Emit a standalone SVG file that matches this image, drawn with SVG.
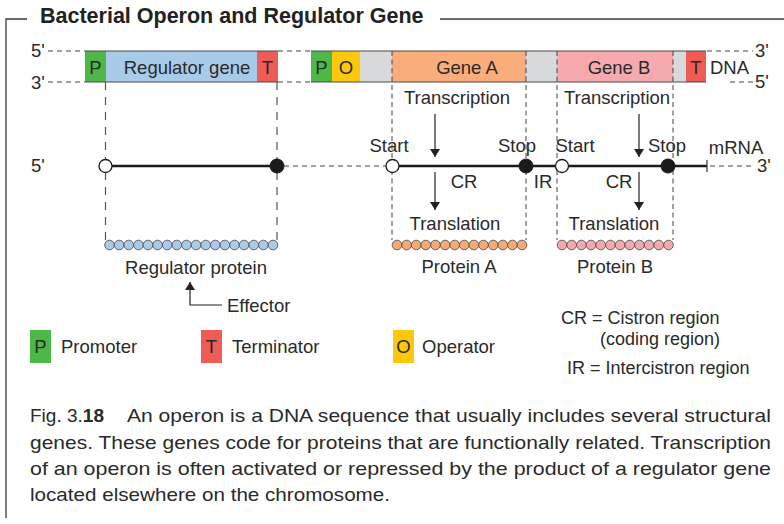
<svg xmlns="http://www.w3.org/2000/svg" width="784" height="524" viewBox="0 0 784 524">
<style>
text{font-family:"Liberation Sans",Arial,sans-serif;fill:#2a2a2a}
.lb{font-size:18.5px}
.sm{font-size:18px}
.cap{font-size:19px}
.m{text-anchor:middle}
.frame{stroke:#3a3a3a;stroke-width:1.3;fill:none}
.edge{stroke:#4a4a4a;stroke-width:1.2;fill:none}
.dh{stroke:#444;stroke-width:1.1;stroke-dasharray:5 4;fill:none}
.dvr{stroke:#555;stroke-width:1.2;stroke-dasharray:8 7;fill:none}
.dvo{stroke:#444;stroke-width:1;stroke-dasharray:5 3.5;fill:none}
.thick{stroke:#1a1a1a;stroke-width:2.6;fill:none}
.thin{stroke:#333;stroke-width:1.2;fill:none}
.open{fill:#fff;stroke:#1a1a1a;stroke-width:1.3}
.full{fill:#1a1a1a;stroke:#1a1a1a;stroke-width:1}
.arr{stroke:#222;stroke-width:1.2;fill:none}
.bead{stroke:#555;stroke-width:0.9}
.bb{fill:#a9cbea}.bo{fill:#f9aa74}.bp{fill:#f6a9ad}
.cg{fill:#4db848}.cb{fill:#a9cbea}.cr{fill:#ef5b55}.cy{fill:#fdc80c}.cx{fill:#d9dadc}.ca{fill:#f9ad7a}.cp{fill:#f7aaae}
</style>
<defs>
<marker id="ah" viewBox="0 0 8 10" refX="8" refY="5" markerWidth="8" markerHeight="10" markerUnits="userSpaceOnUse" orient="auto">
<path d="M0,0 L8,5 L0,10 Z" fill="#222"/>
</marker>
</defs>

<g id="frame">
<path class="frame" d="M27,19 H6 V518"/>
<path class="frame" d="M440,19 H784"/>
<text x="40" y="23" style="font-size:21.5px;font-weight:bold;fill:#222">Bacterial Operon and Regulator Gene</text>
</g>

<g id="connectors">
<!-- DNA dashed strand lines -->
<path class="dh" d="M48,51 H85 M48,82 H85"/>
<path class="dh" d="M278,51 H311 M278,82 H311"/>
<path class="dh" d="M707,51 H753 M730,82 H753"/>
<!-- vertical dashed guides -->
<path class="dvr" d="M105.5,82 V240 M277,82 V240"/>
<path class="dvo" d="M392,51 V240 M526,51 V240 M557,51 V240 M673,51 V240"/>
<!-- mRNA -->
<path class="thick" d="M105.5,166 H277"/>
<path class="dh" d="M284,166 H386"/>
<path class="thick" d="M392,166 H707"/>
<path class="thin" d="M707,160 V172"/>
<path class="dh" d="M710,166 H753"/>
<!-- arrows -->
<path class="arr" d="M435,114 V157" marker-end="url(#ah)"/>
<path class="arr" d="M435,172 V210" marker-end="url(#ah)"/>
<path class="arr" d="M639,114 V157" marker-end="url(#ah)"/>
<path class="arr" d="M639,172 V210" marker-end="url(#ah)"/>
<path class="arr" d="M222,305 H190 V282" marker-end="url(#ah)"/>
</g>

<g id="dna-regulator">
<rect class="cg" x="85" y="51" width="21" height="31"/>
<rect class="cb" x="106" y="51" width="151" height="31"/>
<rect class="cr" x="257" y="51" width="21" height="31"/>
<path class="edge" d="M85,51 H278 M85,82 H278"/>
<text class="lb m" x="95.5" y="74">P</text>
<text class="lb m" x="187" y="74">Regulator gene</text>
<text class="lb m" x="267.5" y="74">T</text>
</g>

<g id="dna-operon">
<rect class="cg" x="311" y="51" width="21" height="31"/>
<rect class="cy" x="332" y="51" width="28" height="31"/>
<rect class="cx" x="360" y="51" width="32" height="31"/>
<rect class="ca" x="392" y="51" width="134" height="31"/>
<rect class="cx" x="526" y="51" width="31" height="31"/>
<rect class="cp" x="557" y="51" width="116" height="31"/>
<rect class="cx" x="673" y="51" width="13" height="31"/>
<rect class="cr" x="686" y="51" width="20" height="31"/>
<path class="edge" d="M311,51 H706 M311,82 H706"/>
<path class="dvo" d="M392,51 V82 M526,51 V82 M557,51 V82 M673,51 V82"/>
<text class="lb m" x="321.5" y="74">P</text>
<text class="lb m" x="346" y="74">O</text>
<text class="lb m" x="467" y="74">Gene A</text>
<text class="lb m" x="619" y="74">Gene B</text>
<text class="lb m" x="696" y="74">T</text>
<text class="lb" x="710" y="74">DNA</text>
</g>

<g id="strand-labels">
<text class="lb" x="31" y="57">5'</text>
<text class="lb" x="31" y="89">3'</text>
<text class="lb" x="755" y="57">3'</text>
<text class="lb" x="755" y="88">5'</text>
<text class="lb" x="31" y="172">5'</text>
<text class="lb" x="757" y="172">3'</text>
<text class="lb m" x="736" y="154">mRNA</text>
</g>

<g id="mrna-points">
<circle class="open" cx="105.5" cy="166" r="6.5"/>
<circle class="full" cx="277" cy="166" r="7"/>
<circle class="open" cx="392.5" cy="166" r="6.5"/>
<circle class="full" cx="526" cy="166" r="7"/>
<circle class="open" cx="562" cy="166" r="6.5"/>
<circle class="full" cx="668" cy="166" r="7"/>
<text class="lb m" x="389" y="152">Start</text>
<text class="lb m" x="517" y="152">Stop</text>
<text class="lb m" x="575" y="152">Start</text>
<text class="lb m" x="667" y="152">Stop</text>
</g>

<g id="process-labels">
<text class="lb m" x="457" y="104">Transcription</text>
<text class="lb m" x="617" y="104">Transcription</text>
<text class="lb m" x="464" y="188">CR</text>
<text class="lb m" x="543" y="188">IR</text>
<text class="lb m" x="619" y="188">CR</text>
<text class="lb m" x="455" y="230">Translation</text>
<text class="lb m" x="614" y="230">Translation</text>
</g>

<g id="regulator-protein">
<g class="bead bb">
<circle cx="109.5" cy="245" r="4.8"/><circle cx="119.1" cy="245" r="4.8"/><circle cx="128.7" cy="245" r="4.8"/><circle cx="138.4" cy="245" r="4.8"/><circle cx="148" cy="245" r="4.8"/><circle cx="157.6" cy="245" r="4.8"/><circle cx="167.2" cy="245" r="4.8"/><circle cx="176.8" cy="245" r="4.8"/><circle cx="186.4" cy="245" r="4.8"/><circle cx="196.1" cy="245" r="4.8"/><circle cx="205.7" cy="245" r="4.8"/><circle cx="215.3" cy="245" r="4.8"/><circle cx="224.9" cy="245" r="4.8"/><circle cx="234.5" cy="245" r="4.8"/><circle cx="244.1" cy="245" r="4.8"/><circle cx="253.8" cy="245" r="4.8"/><circle cx="263.4" cy="245" r="4.8"/><circle cx="273" cy="245" r="4.8"/>
</g>
<text class="lb m" x="196" y="274">Regulator protein</text>
</g>

<g id="protein-a">
<g class="bead bo">
<circle cx="397" cy="245" r="4.8"/><circle cx="406.6" cy="245" r="4.8"/><circle cx="416.2" cy="245" r="4.8"/><circle cx="425.8" cy="245" r="4.8"/><circle cx="435.5" cy="245" r="4.8"/><circle cx="445.1" cy="245" r="4.8"/><circle cx="454.7" cy="245" r="4.8"/><circle cx="464.3" cy="245" r="4.8"/><circle cx="473.9" cy="245" r="4.8"/><circle cx="483.5" cy="245" r="4.8"/><circle cx="493.2" cy="245" r="4.8"/><circle cx="502.8" cy="245" r="4.8"/><circle cx="512.4" cy="245" r="4.8"/><circle cx="522" cy="245" r="4.8"/>
</g>
<text class="lb m" x="459" y="273">Protein A</text>
</g>

<g id="protein-b">
<g class="bead bp">
<circle cx="562" cy="245" r="4.8"/><circle cx="571.7" cy="245" r="4.8"/><circle cx="581.4" cy="245" r="4.8"/><circle cx="591" cy="245" r="4.8"/><circle cx="600.7" cy="245" r="4.8"/><circle cx="610.4" cy="245" r="4.8"/><circle cx="620.1" cy="245" r="4.8"/><circle cx="629.8" cy="245" r="4.8"/><circle cx="639.5" cy="245" r="4.8"/><circle cx="649.1" cy="245" r="4.8"/><circle cx="658.8" cy="245" r="4.8"/><circle cx="668.5" cy="245" r="4.8"/>
</g>
<text class="lb m" x="615" y="273">Protein B</text>
</g>

<g id="effector">
<text class="lb" x="227" y="312">Effector</text>
</g>

<g id="legend">
<rect class="cg" x="30" y="330" width="21" height="33"/>
<text class="lb m" x="40.5" y="353">P</text>
<text class="lb" x="61" y="353">Promoter</text>
<rect class="cr" x="201" y="330" width="21" height="33"/>
<text class="lb m" x="211.5" y="353">T</text>
<text class="lb" x="232" y="353">Terminator</text>
<rect class="cy" x="393" y="330" width="21" height="33"/>
<text class="lb m" x="403.5" y="353">O</text>
<text class="lb" x="422" y="353">Operator</text>
<text class="sm" x="561" y="324">CR = Cistron region</text>
<text class="sm" x="600" y="345">(coding region)</text>
<text class="sm" x="567" y="374">IR = Intercistron region</text>
</g>

<g id="caption">
<text class="cap" x="30" y="422">Fig. 3.<tspan font-weight="bold">18</tspan></text>
<text class="cap" x="127" y="422" textLength="644" lengthAdjust="spacingAndGlyphs">An operon is a DNA sequence that usually includes several structural</text>
<text class="cap" x="30" y="449" textLength="741" lengthAdjust="spacingAndGlyphs">genes. These genes code for proteins that are functionally related. Transcription</text>
<text class="cap" x="30" y="475" textLength="741" lengthAdjust="spacingAndGlyphs">of an operon is often activated or repressed by the product of a regulator gene</text>
<text class="cap" x="30" y="501" textLength="360" lengthAdjust="spacingAndGlyphs">located elsewhere on the chromosome.</text>
</g>
</svg>
